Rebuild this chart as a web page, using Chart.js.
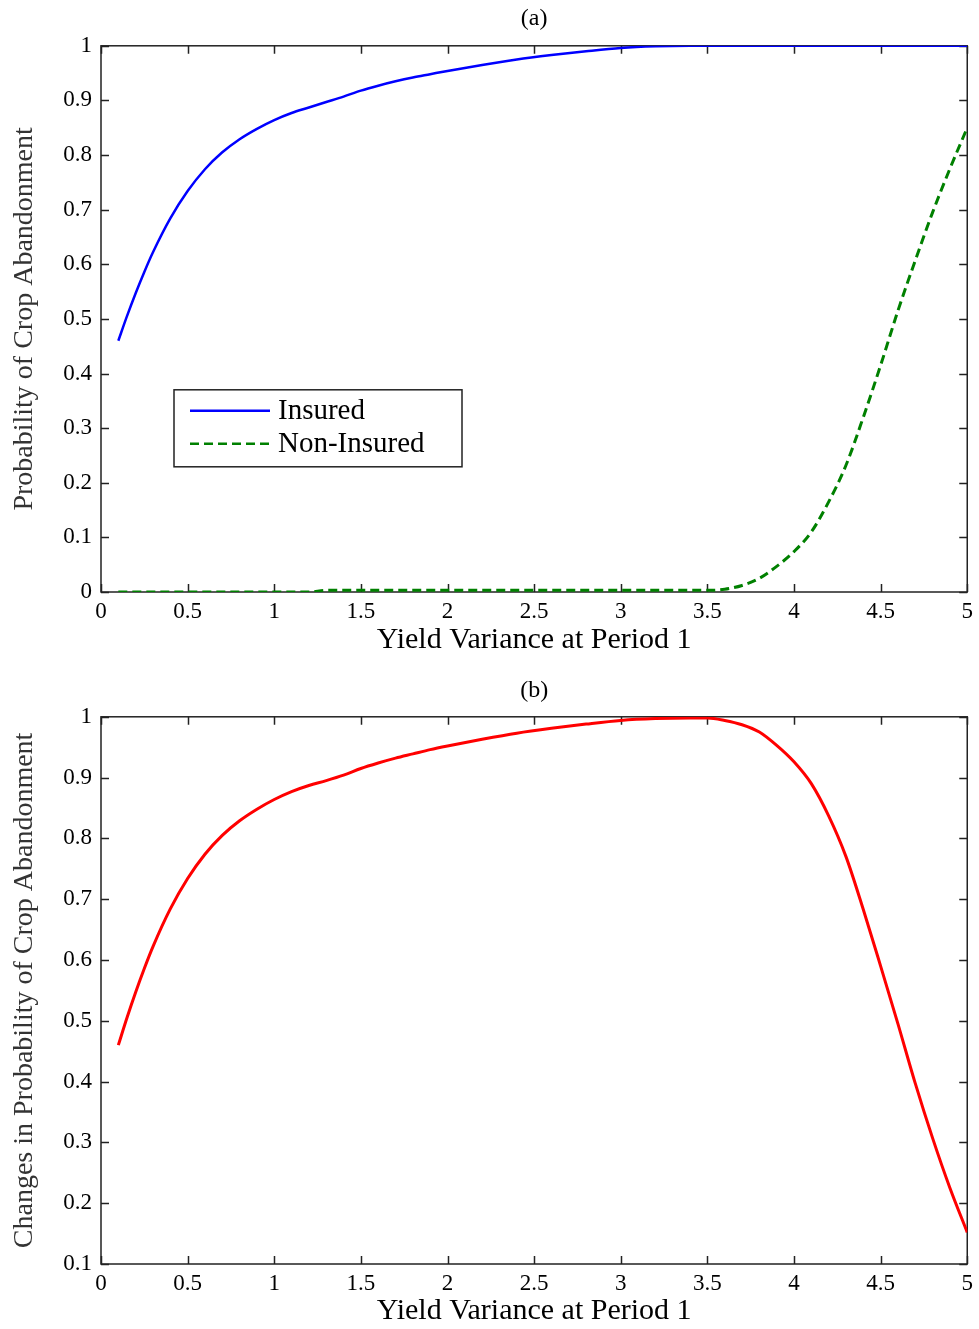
<!DOCTYPE html>
<html>
<head>
<meta charset="utf-8">
<title>Crop abandonment</title>
<script src="https://cdn.jsdelivr.net/npm/chart.js@4.4.1/dist/chart.umd.min.js"></script>
<style>
  body { margin: 0; background: #fff; }
  canvas { position: absolute; left: 0; }
  #chartA { top: 0; }
  #chartB { top: 665px; }
</style>
</head>
<body>
<canvas id="chartA" width="979" height="665"></canvas>
<canvas id="chartB" width="979" height="664"></canvas>
<script>
// yield variance (x) at which each value was read
const variance = [0.1, 0.15, 0.2, 0.25, 0.3, 0.4, 0.5, 0.6, 0.7, 0.8, 0.9, 1.0,
  1.1, 1.2, 1.3, 1.4, 1.5, 1.6, 1.7, 1.8, 1.9, 2.0, 2.2, 2.4, 2.6, 2.8, 3.0,
  3.2, 3.4, 3.5, 3.6, 3.7, 3.8, 3.9, 4.0, 4.1, 4.2, 4.3, 4.4, 4.5, 4.6, 4.7,
  4.8, 4.9, 5.0];

// (a) probability of crop abandonment
const insured = [0.46, 0.505, 0.547, 0.586, 0.622, 0.684, 0.734, 0.774, 0.805, 0.829, 0.848, 0.864,
  0.877, 0.887, 0.897, 0.907, 0.918, 0.927, 0.935, 0.942, 0.948, 0.954, 0.965, 0.975, 0.983, 0.99, 0.996,
  0.999, 1.0, 1.0, 1.0, 1.0, 1.0, 1.0, 1.0, 1.0, 1.0, 1.0, 1.0, 1.0, 1.0, 1.0,
  1.0, 1.0, 1.0];
const nonInsured = [0, 0, 0, 0, 0, 0, 0, 0, 0, 0, 0, 0,
  0, 0, 0.003, 0.003, 0.003, 0.003, 0.003, 0.003, 0.003, 0.003, 0.003, 0.003, 0.003, 0.003, 0.003,
  0.003, 0.003, 0.003, 0.005, 0.012, 0.025, 0.047, 0.074, 0.11, 0.165, 0.232, 0.32, 0.415, 0.515, 0.607,
  0.695, 0.775, 0.85];

// (b) changes in probability of crop abandonment
const change = [0.46, 0.505, 0.547, 0.586, 0.622, 0.684, 0.734, 0.774, 0.805, 0.829, 0.848, 0.864,
  0.877, 0.887, 0.895, 0.904, 0.915, 0.924, 0.932, 0.939, 0.946, 0.952, 0.963, 0.973, 0.981, 0.988, 0.994,
  0.997, 0.998, 0.998, 0.994, 0.987, 0.975, 0.953, 0.926, 0.89, 0.837, 0.77, 0.683, 0.59, 0.495, 0.397,
  0.307, 0.225, 0.152];

// tick positions
const xTicks = [0, 0.5, 1, 1.5, 2, 2.5, 3, 3.5, 4, 4.5, 5];
const yTicksA = [0, 0.1, 0.2, 0.3, 0.4, 0.5, 0.6, 0.7, 0.8, 0.9, 1];
const yTicksB = [0.1, 0.2, 0.3, 0.4, 0.5, 0.6, 0.7, 0.8, 0.9, 1];

const SERIF = '"Liberation Serif", "DejaVu Serif", serif';

function points(ys) {
  return variance.map((x, i) => ({ x: x, y: ys[i] }));
}

// matlab style frame: box round the plot and ticks pointing inwards
const framePlugin = {
  id: 'frame',
  beforeDatasetsDraw(chart) {
    const { ctx, chartArea: a, scales } = chart;
    const len = 8;
    ctx.save();
    ctx.strokeStyle = '#222';
    ctx.lineWidth = 1.5;
    ctx.strokeRect(a.left, a.top, a.right - a.left, a.bottom - a.top);
    ctx.beginPath();
    scales.x.ticks.forEach(t => {
      const px = Math.round(scales.x.getPixelForValue(t.value)) + 0.5;
      ctx.moveTo(px, a.bottom); ctx.lineTo(px, a.bottom - len);
      ctx.moveTo(px, a.top); ctx.lineTo(px, a.top + len);
    });
    scales.y.ticks.forEach(t => {
      const py = Math.round(scales.y.getPixelForValue(t.value)) + 0.5;
      ctx.moveTo(a.left, py); ctx.lineTo(a.left + len, py);
      ctx.moveTo(a.right, py); ctx.lineTo(a.right - len, py);
    });
    ctx.stroke();
    ctx.restore();
  }
};

// boxed legend inside the plot, lower left
const boxLegendPlugin = {
  id: 'boxLegend',
  afterDraw(chart, args, opts) {
    if (!opts.show) return;
    const { ctx, chartArea: a } = chart;
    const bx = a.left + 73, by = a.top + 344, bw = 288, bh = 77;
    ctx.save();
    ctx.fillStyle = '#fff';
    ctx.fillRect(bx, by, bw, bh);
    ctx.strokeStyle = '#222';
    ctx.lineWidth = 1.5;
    ctx.strokeRect(bx, by, bw, bh);
    ctx.font = '29px ' + SERIF;
    ctx.textBaseline = 'middle';
    chart.data.datasets.forEach((ds, i) => {
      const ly = by + 21 + i * 33;
      ctx.beginPath();
      ctx.strokeStyle = ds.borderColor;
      ctx.lineWidth = 2.5;
      ctx.setLineDash(ds.borderDash || []);
      ctx.moveTo(bx + 16, ly);
      ctx.lineTo(bx + 96, ly);
      ctx.stroke();
      ctx.setLineDash([]);
      ctx.fillStyle = '#000';
      ctx.fillText(ds.label, bx + 104, ly + 1);
    });
    ctx.restore();
  }
};

function makeOptions(title, titlePad, yTicks, yMin, yTitle, xAxisHeight, xTitlePad, showLegend) {
  return {
    responsive: false,
    animation: false,
    devicePixelRatio: 1,
    layout: { padding: { left: 0, right: 10, top: 0, bottom: 0 } },
    elements: { point: { radius: 0 } },
    plugins: {
      legend: { display: false },
      tooltip: { enabled: false },
      title: {
        display: true,
        fullSize: false,
        text: title,
        color: '#000',
        font: { family: SERIF, size: 24, weight: 'normal' },
        padding: titlePad
      },
      boxLegend: { show: showLegend }
    },
    scales: {
      x: {
        type: 'linear',
        min: 0,
        max: 5,
        grid: { display: false, drawTicks: false },
        border: { display: false },
        afterBuildTicks: s => { s.ticks = xTicks.map(v => ({ value: v })); },
        afterFit: s => { s.height = xAxisHeight; },
        ticks: {
          color: '#000',
          padding: 6,
          maxRotation: 0,
          font: { family: SERIF, size: 23 },
          callback: v => String(v)
        },
        title: {
          display: true,
          text: 'Yield Variance at Period 1',
          color: '#000',
          font: { family: SERIF, size: 30 },
          padding: { top: 0, bottom: xTitlePad }
        }
      },
      y: {
        min: yMin,
        max: 1,
        grid: { display: false, drawTicks: false },
        border: { display: false },
        afterBuildTicks: s => { s.ticks = yTicks.map(v => ({ value: v })); },
        afterFit: s => { s.width = 101; },
        ticks: {
          color: '#000',
          padding: 9,
          font: { family: SERIF, size: 23 },
          callback: v => String(v)
        },
        title: {
          display: true,
          text: yTitle,
          color: '#333',
          font: { family: SERIF, size: 28 },
          padding: { top: 8, bottom: 0 }
        }
      }
    }
  };
}

new Chart(document.getElementById('chartA'), {
  type: 'line',
  data: {
    datasets: [{
      label: 'Insured',
      data: points(insured),
      borderColor: '#0000ff',
      borderWidth: 2.5,
      cubicInterpolationMode: 'monotone',
      fill: false
    }, {
      label: 'Non-Insured',
      data: points(nonInsured),
      borderColor: '#008000',
      borderWidth: 3,
      borderDash: [9, 5],
      cubicInterpolationMode: 'monotone',
      fill: false
    }]
  },
  options: makeOptions('(a)', { top: 4, bottom: 13 }, yTicksA, 0,
    'Probability of Crop Abandonment', 73, 7, true),
  plugins: [framePlugin, boxLegendPlugin]
});

new Chart(document.getElementById('chartB'), {
  type: 'line',
  data: {
    datasets: [{
      label: 'Change',
      data: points(change),
      borderColor: '#ff0000',
      borderWidth: 3,
      cubicInterpolationMode: 'monotone',
      fill: false
    }]
  },
  options: makeOptions('(b)', { top: 11, bottom: 12 }, yTicksB, 0.1,
    'Changes in Probability of Crop Abandonment', 65, 0, false),
  plugins: [framePlugin, boxLegendPlugin]
});
</script>
</body>
</html>
